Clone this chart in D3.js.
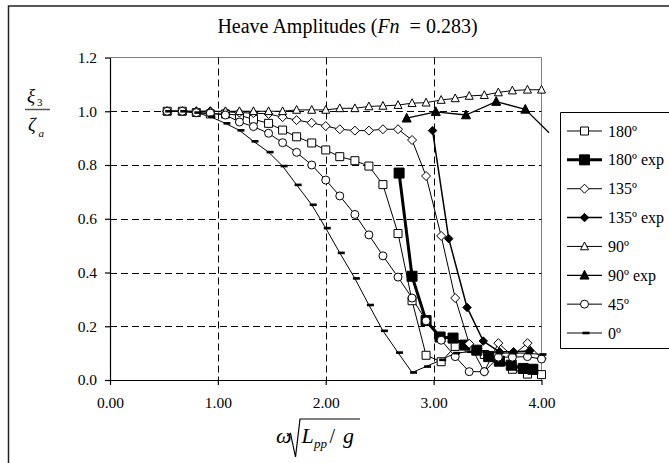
<!DOCTYPE html>
<html>
<head>
<meta charset="utf-8">
<script src="https://cdn.jsdelivr.net/npm/d3@7/dist/d3.min.js"></script>
<style>
  html, body { margin: 0; padding: 0; background: #fff; }
  svg { display: block; font-family: "Liberation Serif", "Times New Roman", serif; }
</style>
</head>
<body>
<svg id="chart" width="669" height="463"></svg>
<script>
// ---------------- DATA ----------------
const xTheory = [0.53, 0.67, 0.80, 0.93, 1.07, 1.20, 1.33, 1.47, 1.60, 1.73, 1.87, 2.00, 2.13, 2.27,
                 2.40, 2.53, 2.67, 2.80, 2.93, 3.07, 3.20, 3.33, 3.47, 3.60, 3.73, 3.87, 4.00];
const heave180 = [1.00, 1.00, 0.995, 0.99, 0.99, 0.985, 0.97, 0.955, 0.93, 0.905, 0.882, 0.856, 0.831, 0.816,
                  0.796, 0.727, 0.545, 0.295, 0.092, 0.068, 0.125, 0.12, 0.095, 0.07, 0.04, 0.022, 0.02];
const heave135 = [1.00, 1.00, 1.00, 1.00, 0.998, 0.995, 0.993, 0.99, 0.978, 0.967, 0.957, 0.945, 0.933, 0.928,
                  0.928, 0.933, 0.933, 0.893, 0.759, 0.536, 0.305, 0.135, 0.031, 0.137, 0.09, 0.137, 0.08];
const heave90  = [1.00, 1.00, 1.00, 1.00, 1.00, 1.00, 1.00, 1.00, 1.00, 1.005, 1.005, 1.005, 1.011, 1.011,
                  1.018, 1.02, 1.023, 1.03, 1.032, 1.042, 1.048, 1.057, 1.06, 1.07, 1.077, 1.08, 1.08];
const heave45  = [1.00, 1.00, 0.995, 0.993, 0.986, 0.96, 0.943, 0.918, 0.883, 0.847, 0.80, 0.744, 0.685, 0.616,
                  0.54, 0.462, 0.383, 0.305, 0.22, 0.148, 0.087, 0.031, 0.031, 0.085, 0.085, 0.087, 0.078];
const heave0   = [1.00, 1.00, 0.995, 0.98, 0.955, 0.929, 0.888, 0.848, 0.796, 0.726, 0.652, 0.565, 0.473, 0.378,
                  0.279, 0.183, 0.102, 0.028, 0.05, 0.075, 0.10, 0.105, 0.105, 0.10, 0.10, 0.10, 0.095];

const x180exp = [2.68, 2.80, 2.93, 3.06, 3.18, 3.29, 3.40, 3.51, 3.61, 3.72, 3.83, 3.92];
const y180exp = [0.77, 0.386, 0.221, 0.16, 0.156, 0.13, 0.111, 0.087, 0.07, 0.055, 0.043, 0.04];
const x135exp = [2.99, 3.14, 3.31, 3.46, 3.61, 3.74, 3.89];
const y135exp = [0.928, 0.526, 0.27, 0.145, 0.105, 0.105, 0.108];
const x90exp  = [2.75, 3.02, 3.30, 3.58, 3.85, 4.07];
const y90exp  = [0.974, 0.998, 0.986, 1.036, 1.007, 0.92];

const seriesNames = ["180º", "180º exp", "135º", "135º exp", "90º", "90º exp", "45º", "0º"];
const xTicks = [0, 1, 2, 3, 4];
const yTicks = [0, 0.2, 0.4, 0.6, 0.8, 1.0, 1.2];
const xGrid = [1, 2, 3];
const yGrid = [0.2, 0.4, 0.6, 0.8, 1.0];
const titleMain = "Heave Amplitudes (";
const titleVar = "Fn";
const titleRest = "  = 0.283)";

// ---------------- STYLES ----------------
const styles = [
  { marker: "square",   size: 8,   fill: "#fff", lw: 1 },
  { marker: "square",   size: 10,  fill: "#000", lw: 3 },
  { marker: "diamond",  size: 9,   fill: "#fff", lw: 1 },
  { marker: "diamond",  size: 8.5, fill: "#000", lw: 1.5 },
  { marker: "triangle", size: 8,   fill: "#fff", lw: 1 },
  { marker: "triangle", size: 9,   fill: "#000", lw: 1.3 },
  { marker: "circle",   size: 8,   fill: "#fff", lw: 1 },
  { marker: "dash",     size: 7,   fill: "#000", lw: 1 }
];

const seriesData = [
  [xTheory, heave180], [x180exp, y180exp], [xTheory, heave135], [x135exp, y135exp],
  [xTheory, heave90], [x90exp, y90exp], [xTheory, heave45], [xTheory, heave0]
].map(([xs, ys]) => xs.map((x, i) => ({ x, y: ys[i] })));

// ---------------- LAYOUT ----------------
const svg = d3.select("#chart");
const x = d3.scaleLinear().domain([0, 4]).range([110, 541.5]);
const y = d3.scaleLinear().domain([0, 1.2]).range([380, 57.5]);

function markerPath(type, s) {
  const h = s / 2;
  switch (type) {
    case "square": return `M${-h},${-h}h${s}v${s}h${-s}Z`;
    case "diamond": return `M0,${-h}L${h},0L0,${h}L${-h},0Z`;
    case "triangle": return `M0,${-s * 0.55}L${h},${s * 0.42}L${-h},${s * 0.42}Z`;
    case "circle": return `M${h},0A${h},${h} 0 1,1 ${-h},0A${h},${h} 0 1,1 ${h},0Z`;
    case "dash": return `M${-h + 1.5},-1.3h${s}v2.6h${-s}Z`;
  }
}

// outer chart border (cropped at right/bottom)
svg.append("path").attr("d", "M8.5,463V6H669").attr("fill", "none")
  .attr("stroke", "#222").attr("stroke-width", 1.5);

// title
const title = svg.append("text").attr("x", 347.5).attr("y", 33).attr("text-anchor", "middle")
  .attr("font-size", 20).attr("fill", "#000").style("white-space", "pre");
title.append("tspan").text(titleMain);
title.append("tspan").attr("font-style", "italic").text(titleVar);
title.append("tspan").text(titleRest);

// plot frame (top/right grey)
svg.append("path")
  .attr("d", `M${x(0)},${y(1.2)}H${x(4)}V${y(0)}`)
  .attr("fill", "none").attr("stroke", "#808080").attr("stroke-width", 1);

// grid
const grid = svg.append("g").attr("stroke", "#000").attr("stroke-width", 1).attr("stroke-dasharray", "7,4");
grid.selectAll("line.h").data(yGrid).join("line").attr("class", "h")
  .attr("x1", x(0)).attr("x2", x(4)).attr("y1", d => Math.round(y(d)) + 0.5).attr("y2", d => Math.round(y(d)) + 0.5);
grid.selectAll("line.v").data(xGrid).join("line").attr("class", "v")
  .attr("y1", y(1.2)).attr("y2", y(0)).attr("x1", d => Math.round(x(d)) + 0.5).attr("x2", d => Math.round(x(d)) + 0.5);

// axes
const yAxis = svg.append("g").attr("transform", `translate(${x(0)},0)`)
  .call(d3.axisLeft(y).tickValues(yTicks).tickFormat(d3.format(".1f")).tickSize(5).tickSizeOuter(0).tickPadding(8));
const xAxis = svg.append("g").attr("transform", `translate(0,${y(0)})`)
  .call(d3.axisBottom(x).tickValues(xTicks).tickFormat(d3.format(".2f")).tickSize(5).tickSizeOuter(0).tickPadding(12));
[yAxis, xAxis].forEach(g => {
  g.attr("font-family", null).attr("font-size", null);
  g.selectAll("text").attr("font-size", 15.5).attr("fill", "#000")
    .style("font-family", '"Liberation Serif", serif');
  g.selectAll("line, path").attr("stroke", "#000").attr("stroke-width", 1.2);
});

// series
const line = d3.line().x(d => x(d.x)).y(d => y(d.y));
const plot = svg.append("g");
seriesData.forEach((pts, i) => {
  const st = styles[i];
  plot.append("path").attr("d", line(pts)).attr("fill", "none")
    .attr("stroke", "#000").attr("stroke-width", st.lw).attr("stroke-linejoin", "round");
});
seriesData.forEach((pts, i) => {
  const st = styles[i];
  plot.append("g").selectAll("path").data(pts.filter(d => d.x <= 4.0)).join("path")
    .attr("transform", d => `translate(${x(d.x)},${y(d.y)})`)
    .attr("d", markerPath(st.marker, st.size))
    .attr("fill", st.fill).attr("stroke", st.marker === "dash" ? "none" : "#000").attr("stroke-width", 1);
});

// legend
const legend = svg.append("g");
legend.append("path").attr("d", "M669,112.5H560.5V348.5H669").attr("fill", "#fff")
  .attr("stroke", "#000").attr("stroke-width", 1);
const rowY = d3.scaleLinear().domain([0, 7]).range([131, 333]);
seriesNames.forEach((name, i) => {
  const st = styles[i];
  const yy = rowY(i);
  legend.append("line").attr("x1", 567).attr("x2", 602).attr("y1", yy).attr("y2", yy)
    .attr("stroke", "#000").attr("stroke-width", st.lw);
  legend.append("path").attr("transform", `translate(584.5,${yy})`)
    .attr("d", markerPath(st.marker, st.marker === "square" && i === 1 ? 10 : st.size))
    .attr("fill", st.fill).attr("stroke", st.marker === "dash" ? "none" : "#000");
  legend.append("text").attr("x", 608).attr("y", yy + 5.5).attr("font-size", 16).attr("fill", "#000").text(name);
});

// y-axis label: xi_3 / zeta_a
const yl = svg.append("g").attr("fill", "#000");
yl.append("text").attr("x", 27).attr("y", 102).attr("font-size", 19).attr("font-style", "italic").text("ξ");
yl.append("text").attr("x", 37).attr("y", 106).attr("font-size", 11).text("3");
yl.append("line").attr("x1", 25).attr("x2", 50).attr("y1", 109.5).attr("y2", 109.5)
  .attr("stroke", "#555").attr("stroke-width", 1.5);
yl.append("text").attr("x", 28).attr("y", 131).attr("font-size", 19).attr("font-style", "italic").text("ζ");
yl.append("text").attr("x", 38.5).attr("y", 137).attr("font-size", 11).attr("font-style", "italic").text("a");

// x-axis label: omega sqrt(Lpp / g)
const xl = svg.append("g").attr("fill", "#000");
xl.append("text").attr("x", 276).attr("y", 443).attr("font-size", 22).attr("font-style", "italic").text("ω");
xl.append("path").attr("d", "M287,436 L290.5,433.5 L295.5,457 L300,419 L360,419")
  .attr("fill", "none").attr("stroke", "#000").attr("stroke-width", 1.2);
xl.append("text").attr("x", 301.5).attr("y", 443).attr("font-size", 22).attr("font-style", "italic").text("L");
xl.append("text").attr("x", 314).attr("y", 448).attr("font-size", 13).attr("font-style", "italic").text("pp");
xl.append("text").attr("x", 329.5).attr("y", 443).attr("font-size", 20).text("/");
xl.append("text").attr("x", 343).attr("y", 443).attr("font-size", 22).attr("font-style", "italic").text("g");
</script>
</body>
</html>
